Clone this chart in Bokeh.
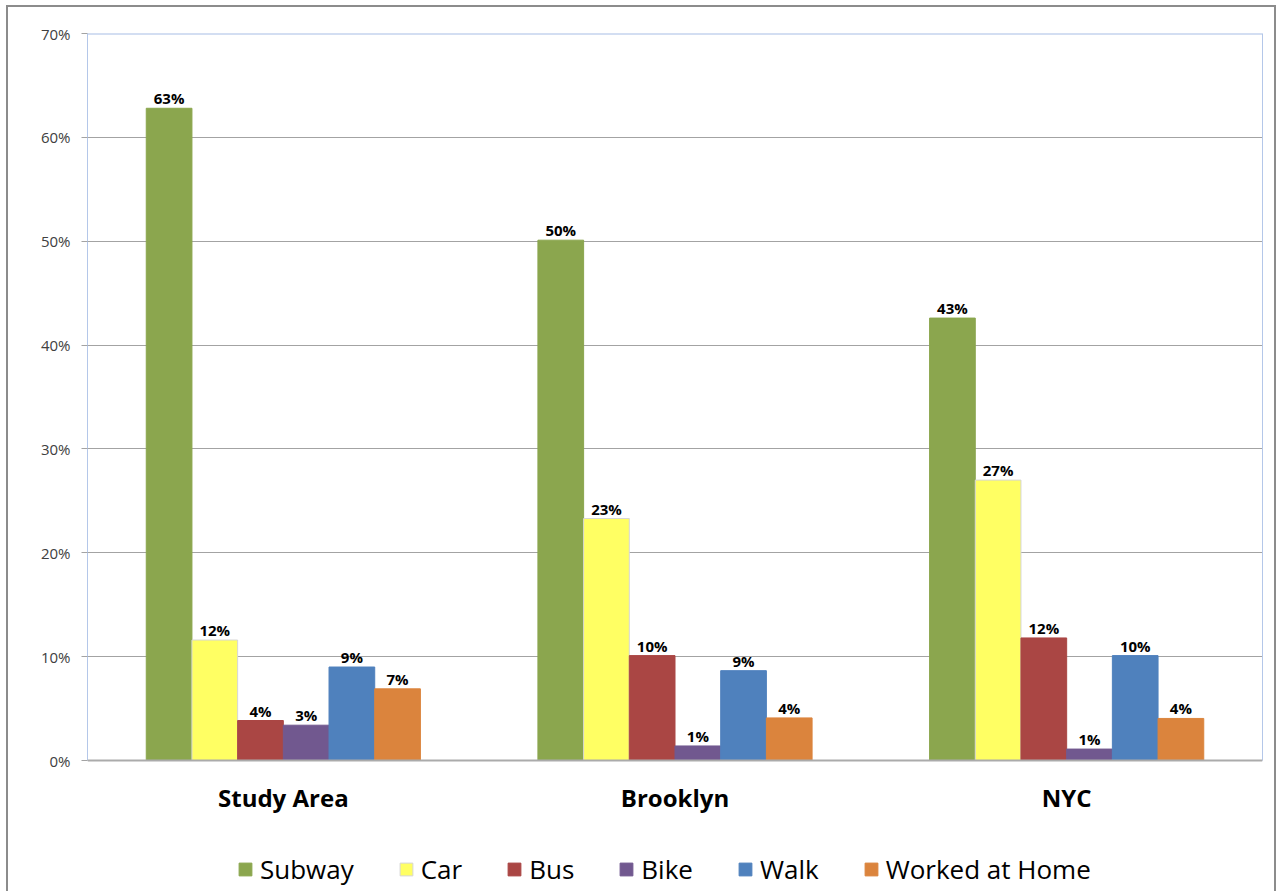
from bokeh.plotting import figure
from bokeh.models import (ColumnDataSource, FactorRange, Range1d, FixedTicker,
                          PrintfTickFormatter, Legend, LegendItem, Span, LinearAxis)
from bokeh.transform import dodge
from bokeh.core.properties import value
from bokeh.embed import file_html
from bokeh.resources import INLINE

# Means of transportation to work, share of workers (%)
areas = ["Study Area", "Brooklyn", "NYC"]
modes = ["Subway", "Car", "Bus", "Bike", "Walk", "Worked at Home"]
subway = [62.8, 50.1, 42.6]
car = [11.6, 23.3, 27.0]
bus = [3.85, 10.1, 11.8]
bike = [3.4, 1.4, 1.1]
walk = [9.0, 8.65, 10.1]
home = [6.9, 4.1, 4.05]
y_ticks = [0, 10, 20, 30, 40, 50, 60, 70]

series = [subway, car, bus, bike, walk, home]
colors = ["#8BA64E", "#FFFF63", "#AA4644", "#71588F", "#4F81BD", "#DB843D"]
outlines = [None, "#d6d6d6", None, None, None, None]

FONT = "Open Sans"
GRAY = "#8c8c8c"
FRAME_BLUE = "#b4c7e9"

# Plot frame runs to the bottom of the canvas so the legend can sit under the
# category labels; the value axis only covers 0-70%.
W, H = 1270, 886
TOP, ZERO = 26, 753          # canvas rows of 70% and 0%
y_min = -70 * (H - ZERO) / (ZERO - TOP)

p = figure(width=W, height=H,
           x_range=FactorRange(factors=areas, range_padding=0),
           y_range=Range1d(y_min, 70),
           x_axis_location=None,
           output_backend="svg", toolbar_location=None,
           min_border_left=79, min_border_right=16,
           min_border_top=TOP, min_border_bottom=0)
p.styles = {"border-top": f"2px solid {GRAY}", "border-left": f"2px solid {GRAY}",
            "border-right": f"2px solid {GRAY}",
            "margin-left": "6px", "margin-top": "5px"}

p.outline_line_color = None
p.background_fill_color = "white"
p.border_fill_color = "white"

# grid
p.xgrid.grid_line_color = None
p.ygrid.grid_line_color = "#a3a3a3"
p.ygrid.grid_line_width = 1
p.ygrid.ticker = FixedTicker(ticks=y_ticks)

# value axis
p.yaxis.ticker = FixedTicker(ticks=y_ticks)
p.yaxis.bounds = (0, 70)
p.yaxis.formatter = PrintfTickFormatter(format="%d%%")
p.yaxis.axis_line_color = FRAME_BLUE
p.yaxis.major_tick_out = 6
p.yaxis.major_tick_in = 0
p.yaxis.minor_tick_line_color = None
p.yaxis.major_tick_line_color = "#a3a3a3"
p.yaxis.major_label_standoff = 11
p.yaxis.major_label_text_font = FONT
p.yaxis.major_label_text_font_size = "15px"
p.yaxis.major_label_text_color = "#404040"

# right edge of the plot area
right = LinearAxis(ticker=FixedTicker(ticks=[]), bounds=(0, 70),
                   axis_line_color=FRAME_BLUE, major_tick_out=0, major_tick_in=0,
                   minor_tick_out=0, minor_tick_in=0, major_label_standoff=0,
                   major_label_text_font_size="1px")
p.add_layout(right, "right")

# top edge and baseline
p.add_layout(Span(location=70, dimension="width", line_color="#a7bde6",
                  line_width=2))
p.add_layout(Span(location=0, dimension="width", line_color="#ababab",
                  line_width=2))

data = {"area": areas}
for name, vals in zip(modes, series):
    data[name] = vals
    data[name + "_lbl"] = [f"{round(v)}%" for v in vals]
source = ColumnDataSource(data)

bar_w = 0.7 / len(modes)
items = []
for i, (name, col, oc) in enumerate(zip(modes, colors, outlines)):
    off = (i - (len(modes) - 1) / 2) * bar_w
    r = p.vbar(x=dodge("area", off, range=p.x_range), top=name, width=bar_w,
               source=source, fill_color=col,
               line_color=oc if oc else col, line_width=1)
    p.text(x=dodge("area", off, range=p.x_range), y=name, text=name + "_lbl",
           source=source, text_align="center", text_baseline="alphabetic",
           y_offset=-10, text_font=value(FONT), text_font_style="bold",
           text_font_size="15px", text_color="black")
    items.append(LegendItem(label=name, renderers=[r]))

# category labels under the baseline
p.text(x=areas, y=[0] * len(areas), text=areas, text_align="center",
       text_baseline="middle", y_offset=37, text_font=value(FONT),
       text_font_style="bold", text_font_size="24px", text_color="black")

legend = Legend(items=items, orientation="horizontal", location=(150, 6),
                glyph_width=16, glyph_height=16, label_standoff=7, spacing=44,
                padding=0, margin=0, border_line_alpha=0,
                background_fill_alpha=0,
                label_text_font=FONT, label_text_font_size="26px",
                label_text_color="black")
p.add_layout(legend, "center")

open("out.html", "w").write(file_html(p, INLINE))
